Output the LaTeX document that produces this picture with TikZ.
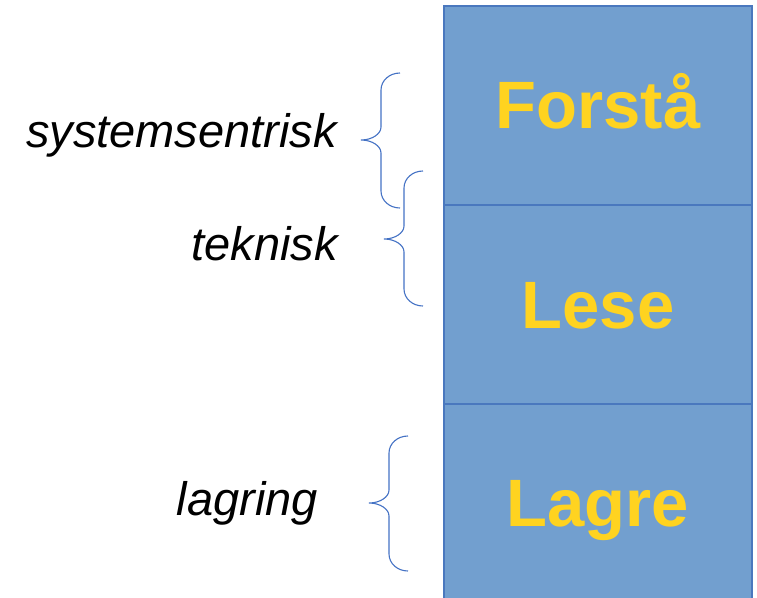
\documentclass[tikz,border=0pt]{standalone}
\usepackage{fontspec}
\setmainfont{Liberation Sans}
\usetikzlibrary{positioning}
\definecolor{layerblue}{HTML}{729FCF}
\definecolor{layeredge}{HTML}{4A78BE}
\definecolor{layertext}{HTML}{FFD320}
\definecolor{bracecol}{HTML}{4472C4}
\tikzstyle{layer} = [rectangle, draw=layeredge, line width=1.2pt, fill=layerblue, minimum width=308pt, minimum height=199pt, inner sep=0pt, outer sep=0pt]
\tikzstyle{word} = [text=layertext, font=\fontsize{67}{67}\selectfont\bfseries, anchor=base, inner sep=0pt]
\tikzstyle{tag} = [font=\fontsize{47}{47}\selectfont\itshape, anchor=base east, inner sep=0pt]
\tikzstyle{brace} = [draw=bracecol, line width=1.1pt]

\begin{document}
\begin{tikzpicture}[x=1pt,y=-1pt]
	\useasboundingbox (0,0) rectangle (757,597);
	\node[layer] (forsta) at (598,105.5) {};
	\node[layer, below=0pt of forsta] (lese) {};
	\node[layer, below=0pt of lese] (lagre) {};
	\node[word] (forstaord) at ([yshift=-23pt]forsta.center) {Forstå};
	\node[word] (leseord) at ([yshift=-24pt]lese.center) {Lese};
	\node[word] (lagreord) at ([yshift=-23pt]lagre.center) {Lagre};
	
	\node[tag] (system) at (337,147) {systemsentrisk};
	\node[tag] (teknisk) at (338,260) {teknisk};
	\node[tag] (lagring) at (318,515) {lagring};
	
	\foreach \e/\a/\m/\b in {400/73/140/208, 423/171/239/306, 408/436/503/571}
		\path[brace] (\e,\a) .. controls ({\e-10.5},\a) and ({\e-19},{\a+7.5}) .. ({\e-19},{\a+17}) -- ({\e-19},{\m-13})
			.. controls ({\e-19},{\m-6}) and ({\e-28},\m) .. ({\e-39},\m)
			.. controls ({\e-28},\m) and ({\e-19},{\m+6}) .. ({\e-19},{\m+13})
			-- ({\e-19},{\b-17}) .. controls ({\e-19},{\b-7.5}) and ({\e-10.5},\b) .. (\e,\b);
\end{tikzpicture}
\end{document}
